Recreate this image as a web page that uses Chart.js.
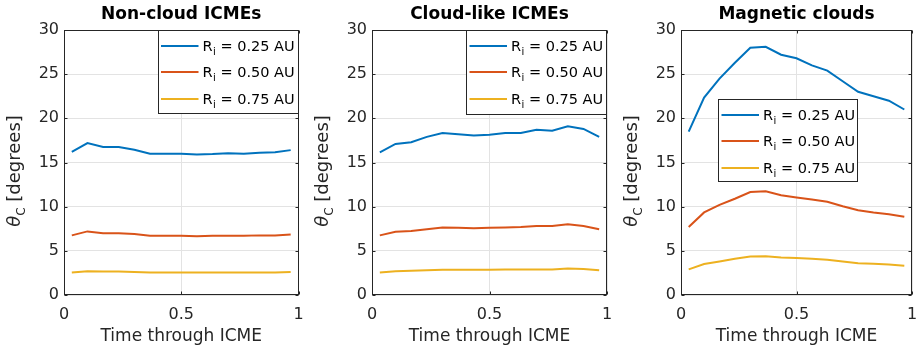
<!DOCTYPE html>
<html><head><meta charset="utf-8">
<script src="https://cdn.jsdelivr.net/npm/chart.js@4/dist/chart.umd.min.js"></script>
<style>
html,body{margin:0;padding:0;background:#fff;}
#wrap{position:relative;width:916px;height:352px;overflow:hidden;background:#fff;}
.pane{position:absolute;top:0;height:352px;}
canvas{display:block;}
</style></head><body>
<div id="wrap">
<div class="pane" style="left:0;width:305px"><canvas id="c1" width="305" height="352"></canvas></div>
<div class="pane" style="left:305px;width:307px"><canvas id="c2" width="307" height="352"></canvas></div>
<div class="pane" style="left:612px;width:304px"><canvas id="c3" width="304" height="352"></canvas></div>
</div>
<script>
// ---- data ----
const timeThroughICME = [0.0333,0.1,0.1667,0.2333,0.3,0.3667,0.4333,0.5,0.5667,0.6333,0.7,0.7667,0.8333,0.9,0.9667];
const seriesLabels = ['0.25','0.50','0.75'];
const panelTitles = ['Non-cloud ICMEs','Cloud-like ICMEs','Magnetic clouds'];
const xTicks = [0,0.5,1];
const yTicks = [0,5,10,15,20,25,30];

const nonCloud025 = [16.2,17.2,16.75,16.75,16.45,16.0,16.0,16.0,15.9,15.95,16.05,16.0,16.1,16.15,16.4];
const nonCloud050 = [6.75,7.2,7.0,7.0,6.9,6.7,6.7,6.7,6.65,6.7,6.72,6.7,6.75,6.75,6.85];
const nonCloud075 = [2.55,2.7,2.65,2.65,2.6,2.55,2.55,2.55,2.55,2.55,2.55,2.55,2.55,2.55,2.6];

const cloudLike025 = [16.15,17.1,17.3,17.9,18.35,18.2,18.05,18.15,18.35,18.35,18.7,18.6,19.1,18.8,17.9];
const cloudLike050 = [6.75,7.15,7.25,7.45,7.65,7.6,7.55,7.6,7.65,7.7,7.8,7.8,8.0,7.8,7.45];
const cloudLike075 = [2.55,2.7,2.75,2.8,2.85,2.85,2.85,2.85,2.9,2.9,2.9,2.9,3.0,2.95,2.8];

const magCloud025 = [18.5,22.35,24.5,26.3,28.0,28.1,27.2,26.8,26.0,25.4,24.2,23.0,22.5,22.0,21.0];
const magCloud050 = [7.7,9.35,10.2,10.9,11.65,11.75,11.3,11.05,10.8,10.55,10.05,9.6,9.35,9.15,8.85];
const magCloud075 = [2.9,3.5,3.8,4.1,4.35,4.4,4.25,4.2,4.1,4.0,3.8,3.6,3.55,3.45,3.3];

// ---- styles ----
const colors = ['#0072BD','#D95319','#EDB120'];
const FONT = '"DejaVu Sans", "Liberation Sans", sans-serif';
const INK = '#262626';

const decor = {
  id: 'decor',
  beforeDraw(chart){
    const ctx = chart.ctx;
    ctx.save(); ctx.fillStyle='#fff'; ctx.fillRect(0,0,chart.width,chart.height); ctx.restore();
  },
  afterDraw(chart, args, o){
    const ctx = chart.ctx, a = chart.chartArea;
    const xs = chart.scales.x, ys = chart.scales.y;
    ctx.save();
    ctx.strokeStyle = INK; ctx.lineWidth = 1;
    const L = Math.round(a.left)+0.5, T = Math.round(a.top)+0.5, R = Math.round(a.right)-0.5, B = Math.round(a.bottom)-0.5;
    ctx.strokeRect(L, T, R-L, B-T);
    ctx.beginPath();
    xs.ticks.forEach(t=>{const p=Math.round(xs.getPixelForValue(t.value))+0.5; ctx.moveTo(p,B); ctx.lineTo(p,B-3); ctx.moveTo(p,T); ctx.lineTo(p,T+3);});
    ys.ticks.forEach(t=>{const p=Math.round(ys.getPixelForValue(t.value))+0.5; ctx.moveTo(L,p); ctx.lineTo(L+3,p); ctx.moveTo(R,p); ctx.lineTo(R-3,p);});
    ctx.stroke();
    // title
    ctx.fillStyle = '#000';
    ctx.textAlign='center'; ctx.textBaseline='middle';
    ctx.font = 'bold 17px ' + FONT;
    ctx.fillText(o.title, (a.left+a.right)/2, 15);
    // x title
    ctx.fillStyle = INK;
    ctx.font = '17px ' + FONT;
    ctx.fillText('Time through ICME', (a.left+a.right)/2, 337);
    // y title
    ctx.save();
    ctx.translate(a.left-44, 171);
    ctx.rotate(-Math.PI/2);
    ctx.textAlign='left'; ctx.textBaseline='alphabetic';
    const f1 = 'italic 18px ' + FONT, f2 = '12px ' + FONT, f3 = '18px ' + FONT;
    ctx.font=f1; const w1 = ctx.measureText('θ').width;
    ctx.font=f2; const w2 = ctx.measureText('C').width;
    ctx.font=f3; const w3 = ctx.measureText(' [degrees]').width;
    let x0 = -(w1+w2+w3)/2;
    ctx.font=f1; ctx.fillText('θ', x0, 0);
    ctx.font=f2; ctx.fillText('C', x0+w1, 5);
    ctx.font=f3; ctx.fillText(' [degrees]', x0+w1+w2, 0);
    ctx.restore();
    // legend
    const lg = o.legend;
    const lx = lg.anchor==='right' ? a.right - lg.w - 1 : a.left + lg.dx;
    const ly = a.top + lg.dy;
    ctx.fillStyle='#fff';
    ctx.fillRect(Math.round(lx)+0.5, Math.round(ly)+0.5, lg.w, lg.h);
    ctx.strokeStyle=INK; ctx.lineWidth=1;
    ctx.strokeRect(Math.round(lx)+0.5, Math.round(ly)+0.5, lg.w, lg.h);
    chart.data.datasets.forEach((ds,k)=>{
      const yy = Math.round(ly + 15.5 + 26.7*k);
      ctx.strokeStyle = ds.borderColor; ctx.lineWidth = 2;
      ctx.beginPath(); ctx.moveTo(lx+3.5, yy); ctx.lineTo(lx+41, yy); ctx.stroke();
      ctx.fillStyle='#000'; ctx.textAlign='left'; ctx.textBaseline='alphabetic';
      ctx.font='14.5px '+FONT;
      let tx = lx+45;
      ctx.fillText('R', tx, yy+5); tx += ctx.measureText('R').width;
      ctx.font='10px '+FONT;
      ctx.fillText('i', tx+0.5, yy+9); tx += ctx.measureText('i').width+0.5;
      ctx.font='14.5px '+FONT;
      ctx.fillText(' = ' + ds.label + ' AU', tx, yy+5);
    });
    ctx.restore();
  }
};

function makeChart(id, title, series, yw, rp, legend){
  return new Chart(document.getElementById(id), {
    type: 'line',
    data: {
      datasets: series.map((vals,k)=>({
        label: seriesLabels[k],
        data: timeThroughICME.map((t,i)=>({x:t, y:vals[i]})),
        borderColor: colors[k], backgroundColor: colors[k],
        borderWidth: 2, pointRadius: 0, tension: 0, fill: false
      }))
    },
    options: {
      responsive: false, animation: false, devicePixelRatio: 1,
      layout: { padding: { top: 30, right: rp, left: 0, bottom: 0 } },
      plugins: { legend: {display:false}, tooltip: {enabled:false}, title:{display:false},
        decor: { title, legend } },
      scales: {
        x: { type:'linear', min:0, max:1,
          afterBuildTicks: s => { s.ticks = xTicks.map(v=>({value:v})); },
          afterFit: s => { s.height = 57; s.paddingLeft = 0; s.paddingRight = 0; },
          grid: { color:'#e3e3e3', drawTicks:false, lineWidth:1 },
          border: { display:false },
          ticks: { padding: 10, color: INK, font:{family:FONT, size:16}, maxRotation:0,
            callback: v => String(v) } },
        y: { type:'linear', min:0, max:30,
          afterBuildTicks: s => { s.ticks = yTicks.map(v=>({value:v})); },
          afterFit: s => { s.width = yw; s.paddingTop = 0; s.paddingBottom = 0; },
          grid: { color:'#e3e3e3', drawTicks:false, lineWidth:1 },
          border: { display:false },
          ticks: { padding: 5, color: INK, font:{family:FONT, size:16}, callback: v => String(v) } }
      }
    },
    plugins: [decor]
  });
}

makeChart('c1', panelTitles[0], [nonCloud025, nonCloud050, nonCloud075], 64, 6.5, {anchor:'right', w:140, h:83, dy:0});
makeChart('c2', panelTitles[1], [cloudLike025, cloudLike050, cloudLike075], 67, 5, {anchor:'right', w:140, h:84, dy:0});
makeChart('c3', panelTitles[2], [magCloud025, magCloud050, magCloud075], 69, 4, {anchor:'left', dx:37, w:139, h:82, dy:69});
</script>
</body></html>
